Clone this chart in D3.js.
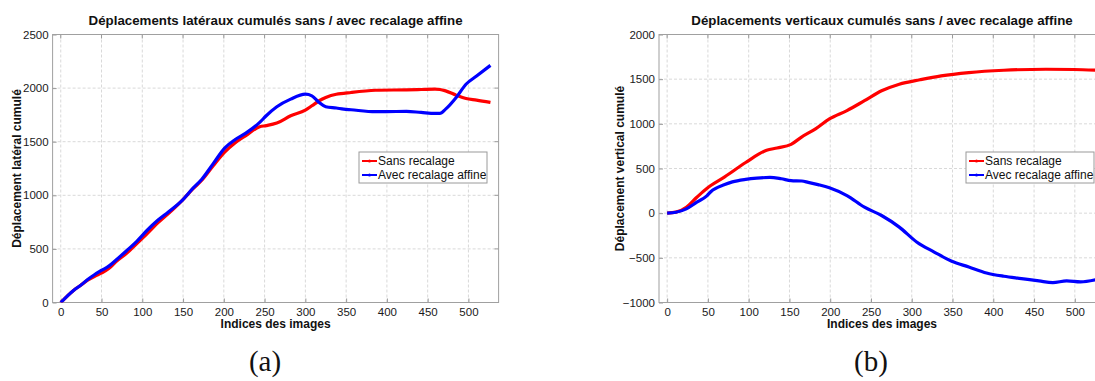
<!DOCTYPE html>
<html><head><meta charset="utf-8">
<script src="https://cdn.jsdelivr.net/npm/d3@7"></script>
<style>
html,body{margin:0;padding:0;background:#fff;}
svg{display:block;font-family:"Liberation Sans",Arial,sans-serif;}
</style></head>
<body><svg id="c" width="1095" height="381"></svg>
<script>
// ---- data ----
const xTicks = [0,50,100,150,200,250,300,350,400,450,500];
const yTicksA = [0,500,1000,1500,2000,2500];
const yTicksB = [-1000,-500,0,500,1000,1500,2000];
const seriesNames = ["Sans recalage","Avec recalage affine"];
const seriesColors = ["#ff0000","#0000ff"];

// (a) lateral displacement
const latX_sans = [0,16,24.5,33,41.7,50.3,58.9,67.5,80.4,93.3,106,119,132,149,162,173,187,201,214,227,244,252,265,282,300,308,317,325,338,347,356,386,424,442,459,465,472,485,497,510,527];
const latY_sans = [0,115,161,208,245,276,317,379,457,550,643,742,829,953,1060,1140,1275,1402,1490,1557,1640,1650,1674,1742,1795,1835,1882,1913,1943,1950,1959,1980,1984,1987,1990,1987,1974,1934,1903,1888,1866];
const latX_avec = [0,16,24.5,33,41.7,50.3,58.9,67.5,80.4,93.3,106,119,132,149,162,173,187,201,214,227,244,252,265,282,300,308,317,325,338,347,356,386,399,424,442,459,465,472,485,497,510,527];
const latY_avec = [0,115,161,214,261,301,339,394,481,571,674,767,845,953,1065,1150,1295,1440,1520,1580,1680,1742,1826,1897,1943,1928,1866,1826,1814,1804,1798,1780,1780,1783,1773,1764,1764,1804,1913,2036,2113,2212];

// (b) vertical displacement
const verX_sans = [0,10.7,23.5,36.4,49,53.5,70.6,96.3,122,134.8,152,164.8,182,199,220.5,242,263,284.7,310,336,370,413,464.5,498.7,528];
const verY_sans = [0,11,67,178,280,310,407,567,704,730,770,852,944,1055,1148,1259,1370,1444,1493,1537,1574,1600,1611,1608,1600];
const verX_avec = [0,10.7,23.5,36.4,49,53.5,70.6,80,96.3,110,126,140,152,165,173,185,199,220.5,242,263,284.7,306,327.5,349,370,391.7,413,434.5,456,473,490,507,528];
const verY_avec = [0,10,48,123,197,240,320,350,378,392,400,385,365,360,345,320,285,197,67,-26,-156,-323,-435,-539,-602,-669,-706,-732,-758,-777,-758,-769,-740];

// ---- drawing ----
const svg = d3.select("#c");
const plotTop = 34.5, plotBottom = 302.5;

function panel(cfg){
  const g = svg.append("g");
  const x = d3.scaleLinear().domain([-10,537]).range([cfg.left, cfg.left+446]);
  const y = d3.scaleLinear().domain(cfg.yDomain).range([plotBottom, plotTop]);
  const right = x(537);
  const cid = "clip"+cfg.id;
  svg.append("clipPath").attr("id",cid).append("rect")
    .attr("x",cfg.left).attr("y",plotTop).attr("width",446).attr("height",plotBottom-plotTop);
  // grid
  g.append("g").selectAll("line").data(xTicks).join("line")
    .attr("x1",d=>x(d)).attr("x2",d=>x(d)).attr("y1",plotTop).attr("y2",plotBottom)
    .attr("stroke","#d9d9d9").attr("stroke-dasharray","3,2").attr("stroke-width",1);
  g.append("g").selectAll("line").data(cfg.yTicks).join("line")
    .attr("x1",cfg.left).attr("x2",right).attr("y1",d=>y(d)).attr("y2",d=>y(d))
    .attr("stroke","#d9d9d9").attr("stroke-dasharray","3,2").attr("stroke-width",1);
  // axes via d3 axis
  const xa = g.append("g").attr("transform",`translate(0,${plotBottom})`)
    .call(d3.axisBottom(x).tickValues(xTicks).tickSize(-4).tickPadding(5).tickFormat(d3.format("d")));
  const ya = g.append("g").attr("transform",`translate(${cfg.left},0)`)
    .call(d3.axisLeft(y).tickValues(cfg.yTicks).tickSize(-4).tickPadding(4).tickFormat(d3.format("d")));
  [xa,ya].forEach(a=>{
    a.select(".domain").remove();
    a.selectAll(".tick line").attr("stroke","#999");
    a.selectAll("text").attr("font-size",11.5).attr("fill","#1a1a1a").attr("font-family","Liberation Sans, Arial, sans-serif");
  });
  // top/right ticks
  g.append("g").selectAll("line").data(xTicks).join("line")
    .attr("x1",d=>x(d)).attr("x2",d=>x(d)).attr("y1",plotTop).attr("y2",plotTop+4).attr("stroke","#999");
  g.append("g").selectAll("line").data(cfg.yTicks).join("line")
    .attr("x1",right-4).attr("x2",right).attr("y1",d=>y(d)).attr("y2",d=>y(d)).attr("stroke","#999");
  // box
  g.append("rect").attr("x",cfg.left).attr("y",plotTop).attr("width",446).attr("height",plotBottom-plotTop)
    .attr("fill","none").attr("stroke","#a0a0a0").attr("stroke-width",1);
  // lines
  const line = d3.line().x(d=>x(d[0])).y(d=>y(d[1])).curve(d3.curveMonotoneX);
  cfg.series.forEach((s,i)=>{
    g.append("path").datum(d3.zip(s[0],s[1])).attr("d",line)
      .attr("fill","none").attr("stroke",seriesColors[i]).attr("stroke-width",3.2)
      .attr("stroke-linejoin","round").attr("clip-path",`url(#${cid})`);
  });
  // title
  const cx = (cfg.left + right)/2;
  svg.append("text").attr("x",cx).attr("y",25).attr("text-anchor","middle")
    .attr("font-size",13.3).attr("font-weight","bold").attr("fill","#111").text(cfg.title);
  svg.append("text").attr("x",cx).attr("y",328).attr("text-anchor","middle")
    .attr("font-size",12).attr("font-weight","bold").attr("fill","#111").text("Indices des images");
  svg.append("text").attr("transform",`translate(${cfg.ylabX},${(plotTop+plotBottom)/2}) rotate(-90)`)
    .attr("text-anchor","middle").attr("font-size",12).attr("font-weight","bold").attr("fill","#111").text(cfg.ylabel);
  // legend
  const lg = svg.append("g").attr("transform",`translate(${cfg.legX},${cfg.legY})`);
  lg.append("rect").attr("x",0).attr("y",0).attr("width",128).attr("height",31)
    .attr("fill","#fff").attr("stroke","#9a9a9a").attr("stroke-width",1);
  seriesNames.forEach((n,i)=>{
    const yy = 9 + i*14;
    lg.append("line").attr("x1",3).attr("x2",18).attr("y1",yy).attr("y2",yy)
      .attr("stroke",seriesColors[i]).attr("stroke-width",2);
    lg.append("circle").attr("cx",10.5).attr("cy",yy).attr("r",1.5).attr("fill",seriesColors[i]);
    lg.append("text").attr("x",19).attr("y",yy+4).attr("font-size",12).attr("fill","#111").text(n);
  });
  // caption
  svg.append("text").attr("x",cfg.capX).attr("y",371).attr("text-anchor","middle")
    .attr("font-family","Liberation Serif, serif").attr("font-size",29).attr("fill","#111").text(cfg.cap);
}

panel({id:"a",left:52.6,yDomain:[0,2500],yTicks:yTicksA,
  series:[[latX_sans,latY_sans],[latX_avec,latY_avec]],
  title:"Déplacements latéraux cumulés sans / avec recalage affine",
  ylabel:"Déplacement latéral cumulé",ylabX:21,legX:359,legY:152,capX:265,cap:"(a)"});
panel({id:"b",left:659,yDomain:[-1000,2000],yTicks:yTicksB,
  series:[[verX_sans,verY_sans],[verX_avec,verY_avec]],
  title:"Déplacements verticaux cumulés sans / avec recalage affine",
  ylabel:"Déplacement vertical cumulé",ylabX:624,legX:966,legY:152,capX:871,cap:"(b)"});
</script></body></html>
